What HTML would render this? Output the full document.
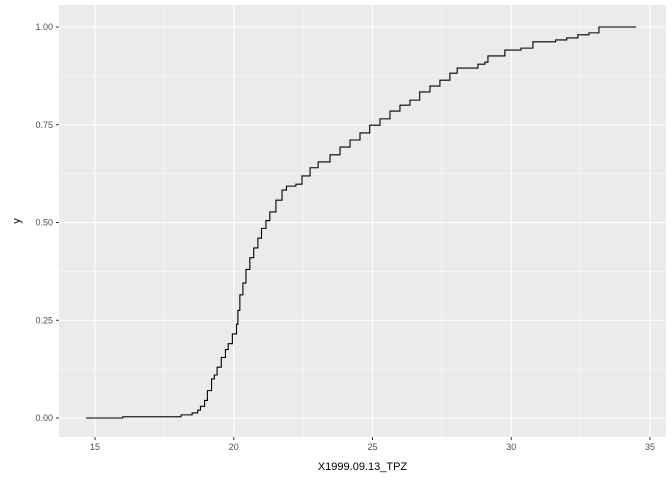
<!DOCTYPE html>
<html><head><meta charset="utf-8"><style>
body{margin:0;background:#fff;font-family:"Liberation Sans",sans-serif}
svg text{font-family:"Liberation Sans",sans-serif}
</style></head><body>
<svg id="c" width="672" height="480"></svg>
<script>
const stepX=[14.68,16.0,18.1,18.5,18.7,18.8,18.95,19.05,19.2,19.3,19.4,19.55,19.7,19.8,19.95,20.1,20.15,20.22,20.33,20.44,20.58,20.72,20.87,21.0,21.16,21.3,21.52,21.74,21.9,22.24,22.46,22.75,23.04,23.47,23.83,24.19,24.55,24.9,25.27,25.63,25.99,26.35,26.7,27.07,27.43,27.79,28.05,28.8,29.05,29.16,29.77,30.35,30.78,31.6,32.0,32.4,32.8,33.16];
const stepY=[0,0.003,0.008,0.013,0.02,0.03,0.045,0.07,0.1,0.11,0.13,0.155,0.175,0.19,0.215,0.24,0.275,0.315,0.345,0.38,0.41,0.435,0.46,0.485,0.505,0.527,0.557,0.583,0.593,0.598,0.619,0.64,0.655,0.673,0.693,0.711,0.729,0.749,0.765,0.785,0.8,0.813,0.834,0.849,0.864,0.882,0.895,0.905,0.91,0.926,0.941,0.946,0.962,0.967,0.972,0.98,0.985,1.0];
const xEnd=34.5;
const xTicks=[15,20,25,30,35];
const yTicks=[0,0.25,0.5,0.75,1.0];
const yLabels=["0.00","0.25","0.50","0.75","1.00"];
const NS="http://www.w3.org/2000/svg";
const svg=document.getElementById('c');
const L=59,R=666,T=5,B=437;
const sx=v=>95+(v-15)*27.75;
const sy=v=>418-v*391;
function mk(t,a,p){const e=document.createElementNS(NS,t);for(const k in a)e.setAttribute(k,a[k]);(p||svg).appendChild(e);return e;}
const bg=mk('rect',{x:L,y:T,width:R-L,height:B-T,fill:'#ebebeb'});


for(let i=0;i<xTicks.length-1;i++){const m=(xTicks[i]+xTicks[i+1])/2;const g=mk('line',{x1:sx(m),x2:sx(m),y1:T,y2:B,stroke:'#fff','stroke-width':0.55});}
for(let i=0;i<yTicks.length-1;i++){const m=(yTicks[i]+yTicks[i+1])/2;const g=mk('line',{x1:L,x2:R,y1:sy(m),y2:sy(m),stroke:'#fff','stroke-width':0.55});}
xTicks.forEach(v=>{const g=mk('line',{x1:sx(v),x2:sx(v),y1:T,y2:B,stroke:'#fff','stroke-width':1.1});
const tk=mk('line',{x1:sx(v),x2:sx(v),y1:B,y2:B+3,stroke:'#333'});
const t=mk('text',{x:sx(v),y:B+13,'text-anchor':'middle','font-size':9,fill:'#4d4d4d'});t.textContent=v;});
yTicks.forEach((v,i)=>{const g=mk('line',{x1:L,x2:R,y1:sy(v),y2:sy(v),stroke:'#fff','stroke-width':1.1});
const tk=mk('line',{x1:L-3,x2:L,y1:sy(v),y2:sy(v),stroke:'#333'});
const t=mk('text',{x:L-6,y:sy(v)+3,'text-anchor':'end','font-size':9,fill:'#4d4d4d'});t.textContent=yLabels[i];});
let d='M'+sx(stepX[0])+','+sy(stepY[0]);
for(let i=1;i<stepX.length;i++){d+=' H'+sx(stepX[i])+' V'+sy(stepY[i]);}
d+=' H'+sx(xEnd);
const p=mk('path',{d:d,fill:'none',stroke:'#000','stroke-width':1.1});


const xt=mk('text',{x:(L+R)/2,y:470,'text-anchor':'middle','font-size':11,fill:'#000'});xt.textContent='X1999.09.13_TPZ';


const yt=mk('text',{x:0,y:0,'text-anchor':'middle','font-size':11,fill:'#000',transform:'translate(20,'+((T+B)/2)+') rotate(-90)'});yt.textContent='y';


</script>
</body></html>
